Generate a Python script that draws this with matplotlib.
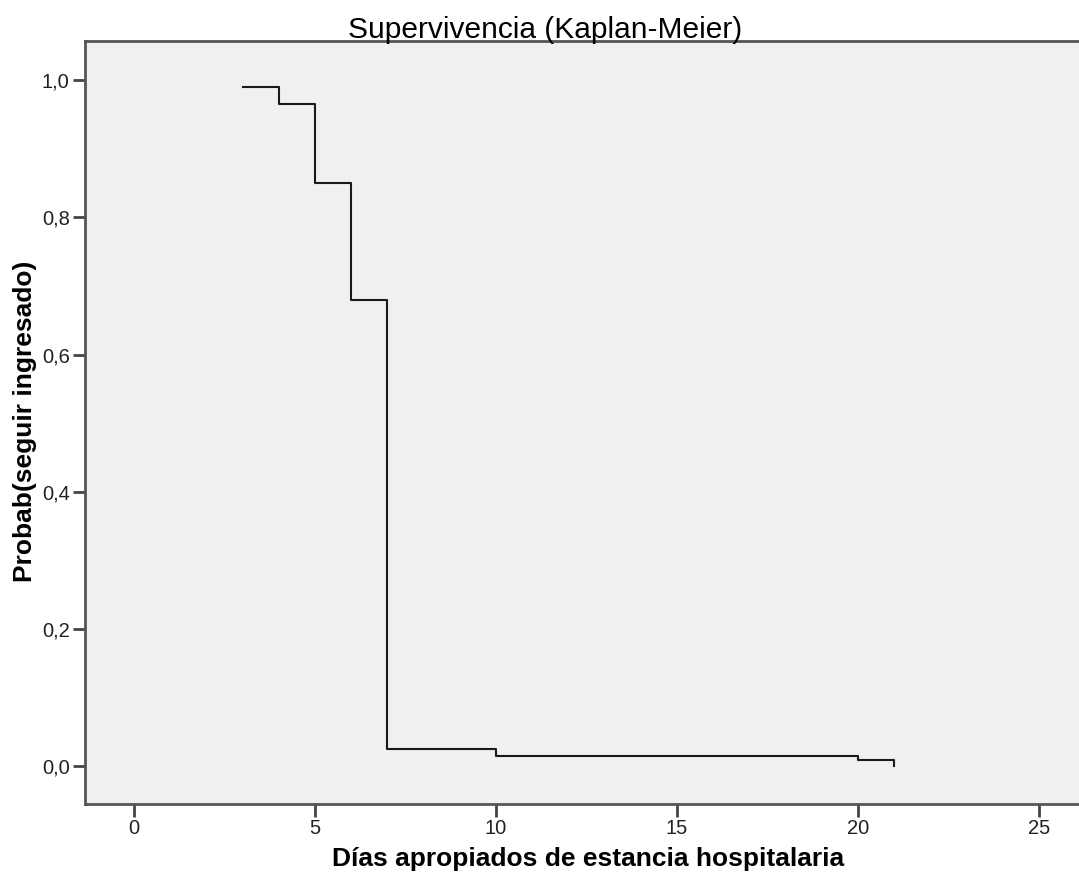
import matplotlib
matplotlib.use("Agg")
import matplotlib.pyplot as plt
from matplotlib.ticker import FuncFormatter

# Kaplan-Meier estimate: days in hospital vs probability of staying admitted
days = [3, 4, 5, 6, 7, 10, 20, 21]
survival = [0.99, 0.965, 0.85, 0.68, 0.025, 0.015, 0.009, 0.0]

x_ticks = [0, 5, 10, 15, 20, 25]
y_ticks = [0.0, 0.2, 0.4, 0.6, 0.8, 1.0]

plt.rcParams["font.family"] = "Liberation Sans"

fig = plt.figure(figsize=(10.79, 8.77), dpi=100)
ax = fig.add_axes([0.0788, 0.0832, 0.9212, 0.870])
ax.set_facecolor("#f0f0f0")

ax.plot(days, survival, drawstyle="steps-post", color="#1a1a1a", linewidth=1.5)

ax.set_xlim(-1.35, 26.1)
ax.set_ylim(-0.055, 1.057)
ax.set_xticks(x_ticks)
ax.set_yticks(y_ticks)
ax.yaxis.set_major_formatter(FuncFormatter(lambda v, p: f"{v:.1f}".replace(".", ",")))

for side in ["left", "bottom", "top"]:
    ax.spines[side].set_color("#555555")
    ax.spines[side].set_linewidth(2)
ax.spines["right"].set_visible(False)

ax.tick_params(direction="out", length=9, width=2, color="#444444",
               labelsize=14.5, labelcolor="#222222", pad=2)

fig.text(0.0232, 0.52, "Probab(seguir ingresado)", rotation=90, ha="center",
         va="center", fontsize=19, fontweight="bold")
fig.text(0.545, 0.0125, "Días apropiados de estancia hospitalaria", ha="center",
         va="baseline", fontsize=19, fontweight="bold")
fig.text(0.505, 0.9567, "Supervivencia (Kaplan-Meier)", ha="center", va="baseline",
         fontsize=21.5)

fig.savefig("out.png", dpi=100)
